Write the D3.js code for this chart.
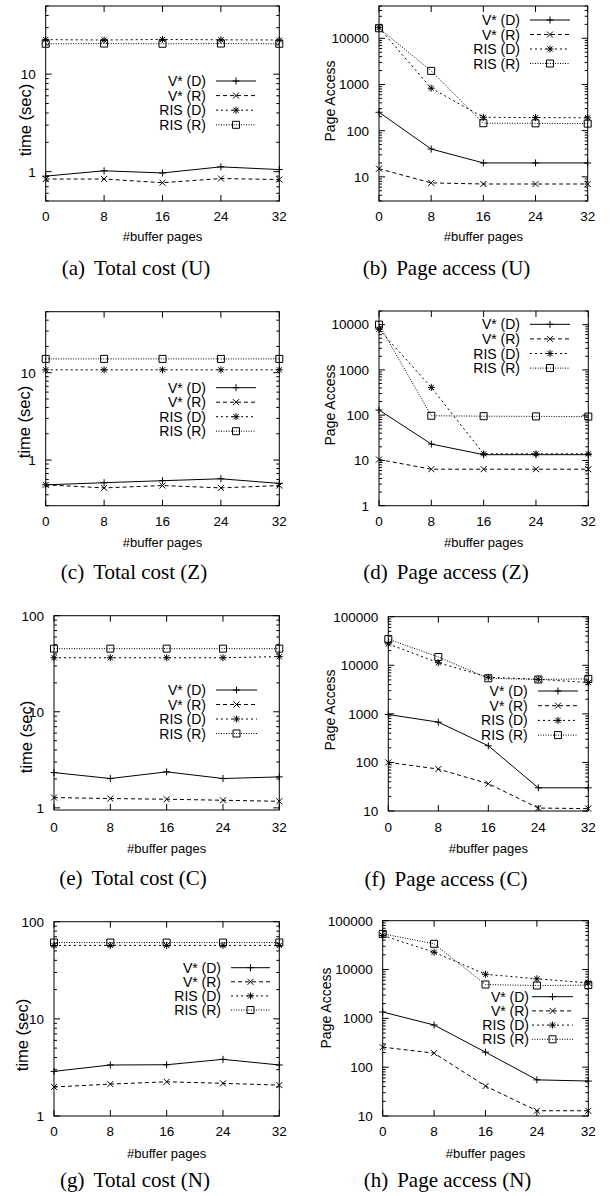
<!DOCTYPE html>
<html>
<head>
<meta charset="utf-8">
<script src="https://cdn.jsdelivr.net/npm/d3@7/dist/d3.min.js"></script>
<style>
  html, body { margin: 0; padding: 0; background: #fff; }
  svg { display: block; }
  text { font-family: "Liberation Sans", Arial, Helvetica, sans-serif; fill: #000; }
  .cap { font-family: "Liberation Serif", "Times New Roman", serif; }
</style>
</head>
<body>
<svg id="chart" width="611" height="1196"></svg>
<script>
// ---------- data ----------
const bufferPages = [0, 8, 16, 24, 32];
const xTickLabels = ["0", "8", "16", "24", "32"];
const seriesNames = ["V* (D)", "V* (R)", "RIS (D)", "RIS (R)"];

// (a) Total cost (U)
const a_VD = [0.90, 1.02, 0.97, 1.12, 1.05];
const a_VR = [0.84, 0.84, 0.77, 0.85, 0.83];
const a_RD = [22.6, 22.4, 22.7, 22.5, 22.4];
const a_RR = [20.5, 20.6, 20.5, 20.6, 20.5];
// (b) Page access (U)
const b_VD = [250, 40, 20, 20, 20];
const b_VR = [15, 7.4, 7, 7, 7];
const b_RD = [17000, 830, 195, 192, 190];
const b_RR = [16500, 1970, 145, 144, 142];
// (c) Total cost (Z)
const c_VD = [0.52, 0.55, 0.58, 0.61, 0.54];
const c_VR = [0.52, 0.48, 0.51, 0.48, 0.51];
const c_RD = [10.8, 10.8, 10.8, 10.8, 10.8];
const c_RR = [14.4, 14.4, 14.4, 14.4, 14.4];
// (d) Page access (Z)
const d_VD = [130, 23, 13.4, 13.4, 13.4];
const d_VR = [10.5, 6.4, 6.4, 6.4, 6.4];
const d_RD = [7900, 410, 14, 14, 14];
const d_RR = [10000, 97, 95, 94, 93];
// (e) Total cost (C)
const e_VD = [2.33, 2.02, 2.37, 2.02, 2.1];
const e_VR = [1.28, 1.25, 1.23, 1.2, 1.17];
const e_RD = [36.5, 36.5, 36.5, 36.5, 37.5];
const e_RR = [45.4, 45.4, 45.4, 45.4, 45.4];
// (f) Page access (C)
const f_VD = [970, 675, 220, 30, 30];
const f_VR = [100, 73, 36.5, 11.5, 11.2];
const f_RD = [27500, 11300, 5670, 5150, 4400];
const f_RR = [34500, 14800, 5400, 5100, 5250];
// (g) Total cost (N)
const g_VD = [2.88, 3.35, 3.37, 3.83, 3.35];
const g_VR = [1.99, 2.13, 2.25, 2.17, 2.08];
const g_RD = [57, 57, 57, 57, 57];
const g_RR = [61, 61, 61, 61, 61];
// (h) Page access (N)
const h_VD = [1350, 730, 203, 55, 52];
const h_VR = [257, 194, 41, 12.8, 12.8];
const h_RD = [49800, 22600, 8000, 6450, 5330];
const h_RR = [53800, 33600, 4930, 4700, 4800];

// y tick values per panel
const yTicks_time1 = [1, 10];
const yTicks_time2 = [1, 10, 100];
const yTicks_pa_b = [10, 100, 1000, 10000];
const yTicks_pa_d = [1, 10, 100, 1000, 10000];
const yTicks_pa_fh = [10, 100, 1000, 10000, 100000];

const captions = ["(a)", "(b)", "(c)", "(d)", "(e)", "(f)", "(g)", "(h)"];
const captionTexts = ["Total cost (U)", "Page access (U)", "Total cost (Z)", "Page access (Z)",
                      "Total cost (C)", "Page access (C)", "Total cost (N)", "Page access (N)"];

// ---------- layout (positions/styles, not data) ----------
const panels = [
  { s: [a_VD, a_VR, a_RD, a_RR], dom: [0.5, 50], ticks: yTicks_time1, ylab: "time (sec)",
    L: 45.7, R: 279.3, T: 6, B: 201, leg: { tx: 206, lx1: 216, lx2: 256, y0: 81, dy: 14.6 },
    ylx: 25, yly: 120, capx: 136, off: [19.5, 40, 74] },
  { s: [b_VD, b_VR, b_RD, b_RR], dom: [3, 50000], ticks: yTicks_pa_b, ylab: "Page Access",
    L: 379, R: 587.7, T: 6, B: 201, leg: { tx: 520, lx1: 530, lx2: 570, y0: 20, dy: 14.5 },
    ylx: 330, yly: 101, capx: 446.5, off: [19.5, 40, 74] },
  { s: [c_VD, c_VR, c_RD, c_RR], dom: [0.3, 50], ticks: yTicks_time1, ylab: "time (sec)",
    L: 45.7, R: 279.3, T: 311.7, B: 505.7, leg: { tx: 206, lx1: 216, lx2: 256, y0: 387.7, dy: 14.5 },
    ylx: 24.5, yly: 422, capx: 134, off: [20.5, 41, 73.5] },
  { s: [d_VD, d_VR, d_RD, d_RR], dom: [1, 20000], ticks: yTicks_pa_d, ylab: "Page Access",
    L: 379, R: 588.3, T: 311, B: 505.7, leg: { tx: 520, lx1: 530, lx2: 570, y0: 324.3, dy: 14.6 },
    ylx: 330.5, yly: 405, capx: 446, off: [20.5, 41, 73.5] },
  { s: [e_VD, e_VR, e_RD, e_RR], dom: [0.95, 100], ticks: yTicks_time2, ylab: "time (sec)",
    L: 54, R: 279.3, T: 615.7, B: 810, leg: { tx: 206, lx1: 216, lx2: 257, y0: 690, dy: 14.5 },
    ylx: 26, yly: 737, capx: 133, off: [21.5, 42.5, 75] },
  { s: [f_VD, f_VR, f_RD, f_RR], dom: [10, 100000], ticks: yTicks_pa_fh, ylab: "Page Access",
    L: 388.3, R: 588.3, T: 616.7, B: 811, leg: { tx: 527.7, lx1: 538, lx2: 578, y0: 691, dy: 14.7 },
    ylx: 330.5, yly: 710, capx: 446, off: [21, 42, 74.5] },
  { s: [g_VD, g_VR, g_RD, g_RR], dom: [1, 100], ticks: yTicks_time2, ylab: "time (sec)",
    L: 54, R: 279.3, T: 921.7, B: 1116, leg: { tx: 221, lx1: 231, lx2: 270, y0: 967.7, dy: 14.1 },
    ylx: 22.5, yly: 1035, capx: 135, off: [20, 41.5, 70.5] },
  { s: [h_VD, h_VR, h_RD, h_RR], dom: [10, 100000], ticks: yTicks_pa_fh, ylab: "Page Access",
    L: 382.7, R: 588.3, T: 920.7, B: 1116, leg: { tx: 529, lx1: 532, lx2: 573, y0: 996.7, dy: 14.2 },
    ylx: 326, yly: 1008, capx: 447.5, off: [20, 41.5, 70.5] }
];

const dashes = [null, "4,3", "2,3", "1,1.5"];
const markerPaths = [
  "M-3.5,0H3.5M0,-3.5V3.5",
  "M-3,-3L3,3M-3,3L3,-3",
  "M-3.5,0H3.5M0,-3.5V3.5M-2.6,-2.6L2.6,2.6M-2.6,2.6L2.6,-2.6",
  "M-3.5,-3.5H3.5V3.5H-3.5Z"
];

const svg = d3.select("#chart");

function minorTicks(dom) {
  const out = [];
  const lo = Math.floor(Math.log10(dom[0])), hi = Math.ceil(Math.log10(dom[1]));
  for (let e = lo; e <= hi; e++) {
    for (let k = 2; k <= 9; k++) {
      const v = k * Math.pow(10, e);
      if (v >= dom[0] * 0.999 && v <= dom[1] * 1.001) out.push(v);
    }
  }
  return out;
}

panels.forEach((p, i) => {
  const g = svg.append("g");
  const x = d3.scaleLinear().domain([0, 32]).range([p.L, p.R]);
  const y = d3.scaleLog().domain(p.dom).range([p.B, p.T]);

  // minor ticks
  const mins = minorTicks(p.dom);
  g.selectAll(null).data(mins).enter().append("path")
    .attr("d", v => `M${p.L},${y(v)}h3M${p.R},${y(v)}h-3`)
    .attr("stroke", "#000").attr("stroke-width", 1).attr("fill", "none");
  // major y ticks
  g.selectAll(null).data(p.ticks).enter().append("path")
    .attr("d", v => `M${p.L},${y(v)}h6M${p.R},${y(v)}h-6`)
    .attr("stroke", "#000").attr("stroke-width", 1).attr("fill", "none");
  // y tick labels
  g.selectAll(null).data(p.ticks).enter().append("text")
    .attr("x", p.L - 10).attr("y", v => y(v))
    .attr("dy", "0.36em").attr("text-anchor", "end")
    .attr("font-size", 13.5).text(v => String(v));
  // x ticks
  g.selectAll(null).data(bufferPages).enter().append("path")
    .attr("d", v => `M${x(v)},${p.B}v-6M${x(v)},${p.T}v6`)
    .attr("stroke", "#000").attr("stroke-width", 1).attr("fill", "none");
  g.selectAll(null).data(bufferPages).enter().append("text")
    .attr("x", v => x(v)).attr("y", p.B + p.off[0])
    .attr("text-anchor", "middle").attr("font-size", 13.5)
    .text((v, j) => xTickLabels[j]);

  // frame
  g.append("rect").attr("x", p.L).attr("y", p.T)
    .attr("width", p.R - p.L).attr("height", p.B - p.T)
    .attr("fill", "none").attr("stroke", "#000").attr("stroke-width", 1);

  // axis labels
  g.append("text").attr("x", (p.L + p.R) / 2).attr("y", p.B + p.off[1])
    .attr("text-anchor", "middle").attr("font-size", 13).text("#buffer pages");
  g.append("text")
    .attr("transform", `translate(${p.ylx},${p.yly}) rotate(-90)`)
    .attr("text-anchor", "middle").attr("dy", "0.35em")
    .attr("font-size", p.ylab === "time (sec)" ? 16.5 : 14)
    .text(p.ylab);

  // series
  const line = d3.line().x((d, j) => x(bufferPages[j])).y(d => y(d));
  p.s.forEach((vals, k) => {
    g.append("path").datum(vals).attr("d", line)
      .attr("fill", "none").attr("stroke", "#000").attr("stroke-width", 1)
      .attr("stroke-dasharray", dashes[k]);
    g.selectAll(null).data(vals).enter().append("path")
      .attr("transform", (d, j) => `translate(${x(bufferPages[j])},${y(d)})`)
      .attr("d", markerPaths[k])
      .attr("fill", "none").attr("stroke", "#000").attr("stroke-width", 1);
  });

  // legend
  seriesNames.forEach((name, k) => {
    const ly = p.leg.y0 + k * p.leg.dy;
    g.append("text").attr("x", p.leg.tx).attr("y", ly).attr("dy", "0.36em")
      .attr("text-anchor", "end").attr("font-size", 14).text(name);
    g.append("line").attr("x1", p.leg.lx1).attr("x2", p.leg.lx2)
      .attr("y1", ly).attr("y2", ly)
      .attr("stroke", "#000").attr("stroke-width", 1)
      .attr("stroke-dasharray", dashes[k]);
    g.append("path")
      .attr("transform", `translate(${(p.leg.lx1 + p.leg.lx2) / 2},${ly})`)
      .attr("d", markerPaths[k])
      .attr("fill", "none").attr("stroke", "#000").attr("stroke-width", 1);
  });

  // caption
  const cap = g.append("text").attr("class", "cap")
    .attr("x", p.capx).attr("y", p.B + p.off[2])
    .attr("text-anchor", "middle").attr("font-size", 21);
  cap.append("tspan").text(captions[i]);
  cap.append("tspan").attr("dx", 9).text(captionTexts[i]);
});
</script>
</body>
</html>
